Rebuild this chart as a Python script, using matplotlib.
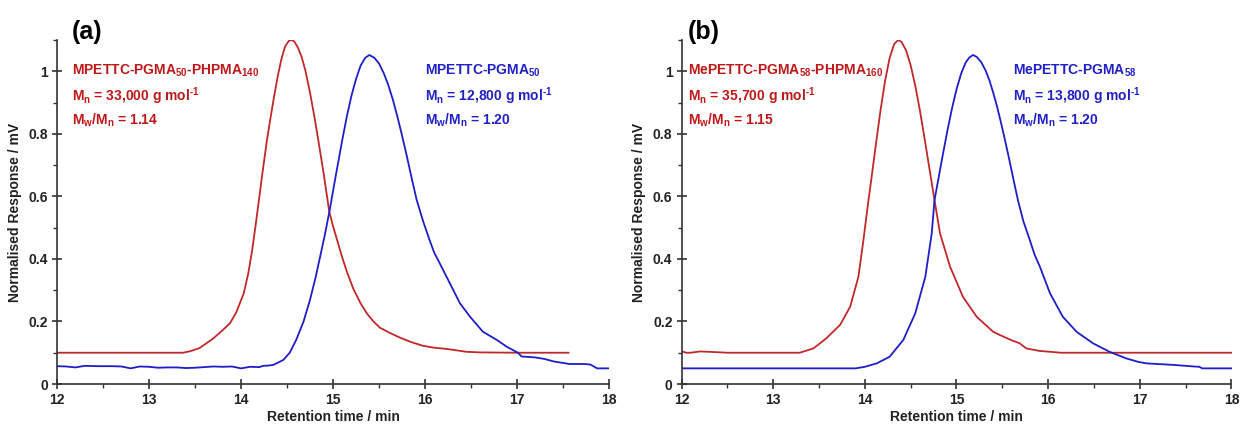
import matplotlib
matplotlib.use("Agg")
import matplotlib.pyplot as plt
from matplotlib.ticker import MultipleLocator

plt.rcParams['font.family'] = ['Liberation Sans', 'DejaVu Sans']
plt.rcParams['font.weight'] = 'bold'
plt.rcParams['mathtext.fontset'] = 'custom'
plt.rcParams['mathtext.rm'] = 'Liberation Sans:bold'
plt.rcParams['mathtext.it'] = 'Liberation Sans:bold'
plt.rcParams['mathtext.bf'] = 'Liberation Sans:bold'

# ---------------- Panel (a) data ----------------
a_red_x = [12.0, 12.5, 13.0, 13.37, 13.45, 13.55, 13.7, 13.8, 13.88, 13.95, 14.03, 14.08,
           14.12, 14.16, 14.2, 14.24, 14.28, 14.32, 14.36, 14.4, 14.44, 14.48, 14.52,
           14.55, 14.58, 14.62, 14.66, 14.7, 14.75, 14.8, 14.85, 14.9, 14.96, 15.0,
           15.05, 15.1, 15.15, 15.22, 15.3, 15.37, 15.44, 15.51, 15.62, 15.73, 15.85,
           15.98, 16.1, 16.24, 16.45, 16.6, 17.0, 17.56]
a_red_y = [0.1, 0.1, 0.1, 0.1, 0.105, 0.115, 0.146, 0.172, 0.194, 0.23, 0.29, 0.355,
           0.425, 0.51, 0.6, 0.69, 0.775, 0.85, 0.92, 0.985, 1.04, 1.08, 1.097,
           1.1, 1.095, 1.075, 1.045, 1.002, 0.932, 0.851, 0.762, 0.67, 0.55, 0.505,
           0.455, 0.405, 0.36, 0.305, 0.258, 0.225, 0.2, 0.18, 0.163, 0.148, 0.134,
           0.122, 0.116, 0.112, 0.103, 0.101, 0.1, 0.1]

a_blue_x = [12.0, 12.1, 12.2, 12.3, 12.45, 12.6, 12.7, 12.8, 12.9, 13.0, 13.1, 13.2, 13.3,
            13.4, 13.5, 13.6, 13.7, 13.8, 13.9, 14.0, 14.1, 14.2, 14.24, 14.3, 14.35,
            14.4, 14.46, 14.53, 14.6, 14.68, 14.75, 14.81, 14.86, 14.91, 14.96, 15.03,
            15.1, 15.15, 15.2, 15.25, 15.3, 15.35, 15.395, 15.45, 15.5, 15.55, 15.6,
            15.65, 15.7, 15.75, 15.8, 15.85, 15.91, 15.98, 16.05, 16.1, 16.16, 16.27,
            16.38, 16.49, 16.63, 16.78, 16.89, 17.01, 17.05, 17.2, 17.3, 17.4, 17.57,
            17.74, 17.8, 17.87, 18.0]
a_blue_y = [0.057, 0.056, 0.053, 0.058, 0.057, 0.057, 0.056, 0.05, 0.056, 0.055, 0.052,
            0.053, 0.053, 0.051, 0.052, 0.054, 0.056, 0.055, 0.056, 0.05, 0.055, 0.054,
            0.058, 0.059, 0.061, 0.068, 0.077, 0.1, 0.141, 0.2, 0.269, 0.34, 0.407,
            0.475, 0.55, 0.666, 0.779, 0.855, 0.921, 0.975, 1.018, 1.043, 1.052, 1.043,
            1.025, 0.995, 0.957, 0.91, 0.855, 0.795, 0.732, 0.665, 0.588, 0.52, 0.46,
            0.42, 0.386, 0.322, 0.258, 0.215, 0.167, 0.141, 0.119, 0.1, 0.088, 0.085,
            0.08, 0.072, 0.064, 0.064, 0.062, 0.05, 0.05]

# ---------------- Panel (b) data ----------------
b_red_x = [12.0, 12.05, 12.1, 12.2, 12.3, 12.5, 12.8, 13.0, 13.29, 13.44, 13.58, 13.73,
           13.84, 13.93, 13.98, 14.04, 14.07, 14.12, 14.17, 14.22, 14.27, 14.32, 14.364,
           14.4, 14.45, 14.5, 14.55, 14.6, 14.65, 14.7, 14.76, 14.82, 14.93, 15.07,
           15.22, 15.4, 15.47, 15.6, 15.69, 15.76, 15.9, 16.02, 16.14, 17.0, 18.0]
b_red_y = [0.105, 0.1, 0.1, 0.104, 0.103, 0.1, 0.1, 0.1, 0.1, 0.114, 0.146, 0.189,
           0.247, 0.343, 0.45, 0.588, 0.653, 0.765, 0.873, 0.968, 1.042, 1.087, 1.1,
           1.094, 1.067, 1.019, 0.954, 0.876, 0.788, 0.697, 0.588, 0.482, 0.375, 0.279,
           0.215, 0.167, 0.157, 0.14, 0.13, 0.114, 0.106, 0.103, 0.1, 0.1, 0.1]

b_blue_x = [12.0, 13.0, 13.9, 14.0, 14.13, 14.27, 14.42, 14.55, 14.66, 14.73, 14.76,
            14.8, 14.85, 14.9, 14.95, 15.0, 15.05, 15.1, 15.14, 15.18, 15.22, 15.27,
            15.32, 15.36, 15.4, 15.44, 15.48, 15.52, 15.56, 15.62, 15.67, 15.73, 15.8,
            15.85, 15.91, 16.02, 16.16, 16.31, 16.49, 16.67, 16.85, 16.98, 17.07,
            17.37, 17.59, 17.65, 17.68, 18.0]
b_blue_y = [0.05, 0.05, 0.05, 0.055, 0.066, 0.087, 0.141, 0.226, 0.343, 0.482, 0.588,
            0.652, 0.732, 0.809, 0.88, 0.942, 0.992, 1.028, 1.044, 1.052, 1.046, 1.029,
            1.001, 0.97, 0.932, 0.89, 0.842, 0.792, 0.739, 0.656, 0.588, 0.52, 0.46,
            0.415, 0.375, 0.29, 0.215, 0.167, 0.13, 0.103, 0.082, 0.071, 0.066,
            0.061, 0.056, 0.055, 0.05, 0.05]

red_lab = {
    'a': [r'MPETTC-PGMA$_{50}$-PHPMA$_{140}$', r'M$_{n}$ = 33,000 g mol$^{\text{-1}}$',
          r'M$_{w}$/M$_{n}$ = 1.14'],
    'b': [r'MePETTC-PGMA$_{58}$-PHPMA$_{160}$', r'M$_{n}$ = 35,700 g mol$^{\text{-1}}$',
          r'M$_{w}$/M$_{n}$ = 1.15'],
}
blue_lab = {
    'a': [r'MPETTC-PGMA$_{50}$', r'M$_{n}$ = 12,800 g mol$^{\text{-1}}$',
          r'M$_{w}$/M$_{n}$ = 1.20'],
    'b': [r'MePETTC-PGMA$_{58}$', r'M$_{n}$ = 13,800 g mol$^{\text{-1}}$',
          r'M$_{w}$/M$_{n}$ = 1.20'],
}

RED = '#C0282A'
BLUE = '#1E1EC8'
RED_T = '#C01818'
BLUE_T = '#2020C8'
AX = '#333333'

W, H = 1241, 426
fig = plt.figure(figsize=(W / 100, H / 100), dpi=100)
bottom = (H - 384) / H
height = (384 - 40) / H
axa = fig.add_axes([57 / W, bottom, 552 / W, height])
axb = fig.add_axes([681.5 / W, bottom, 550 / W, height])

panels = [
    (axa, 'a', a_red_x, a_red_y, a_blue_x, a_blue_y, 12.16, 16.0),
    (axb, 'b', b_red_x, b_red_y, b_blue_x, b_blue_y, 12.07, 15.62),
]

for ax, key, rx, ry, bx, by, rtx, btx in panels:
    ax.plot(rx, ry, color=RED, lw=1.3, solid_joinstyle='round')
    ax.plot(bx, by, color=BLUE, lw=1.3, solid_joinstyle='round')
    ax.set_xlim(12, 18)
    ax.set_ylim(0, 1.1)
    ax.xaxis.set_major_locator(MultipleLocator(1))
    ax.xaxis.set_minor_locator(MultipleLocator(0.5))
    ax.set_yticks([0, 0.2, 0.4, 0.6, 0.8, 1.0])
    ax.set_yticklabels(['0', '0.2', '0.4', '0.6', '0.8', '1'])
    ax.yaxis.set_minor_locator(MultipleLocator(0.1))
    for s in ['top', 'right']:
        ax.spines[s].set_visible(False)
    for s in ['left', 'bottom']:
        ax.spines[s].set_color(AX)
        ax.spines[s].set_linewidth(1.2)
    ax.tick_params(which='major', direction='inout', length=7, width=1.2, color=AX,
                   labelsize=10, labelcolor='#222222', pad=3)
    ax.tick_params(which='minor', direction='out', length=3, width=1.0, color=AX)
    for lab in ax.get_xticklabels() + ax.get_yticklabels():
        lab.set_fontweight('bold')
    ax.set_xlabel('Retention time / min', fontsize=10, fontweight='bold',
                  color='#222222', labelpad=2)
    ax.set_ylabel('Normalised Response / mV', fontsize=10, fontweight='bold',
                  color='#222222', labelpad=5)
    ax.text(rtx, 1.124, '(' + key + ')', fontsize=18, fontweight='bold',
            va='center', ha='left', clip_on=False)
    for i, t in enumerate(red_lab[key]):
        ax.text(rtx, 1.0 - i * 0.079, t, color=RED_T, fontsize=10, fontweight='bold',
                va='center', ha='left')
    for i, t in enumerate(blue_lab[key]):
        ax.text(btx, 1.0 - i * 0.079, t, color=BLUE_T, fontsize=10, fontweight='bold',
                va='center', ha='left')

fig.savefig('out.png', dpi=100)
